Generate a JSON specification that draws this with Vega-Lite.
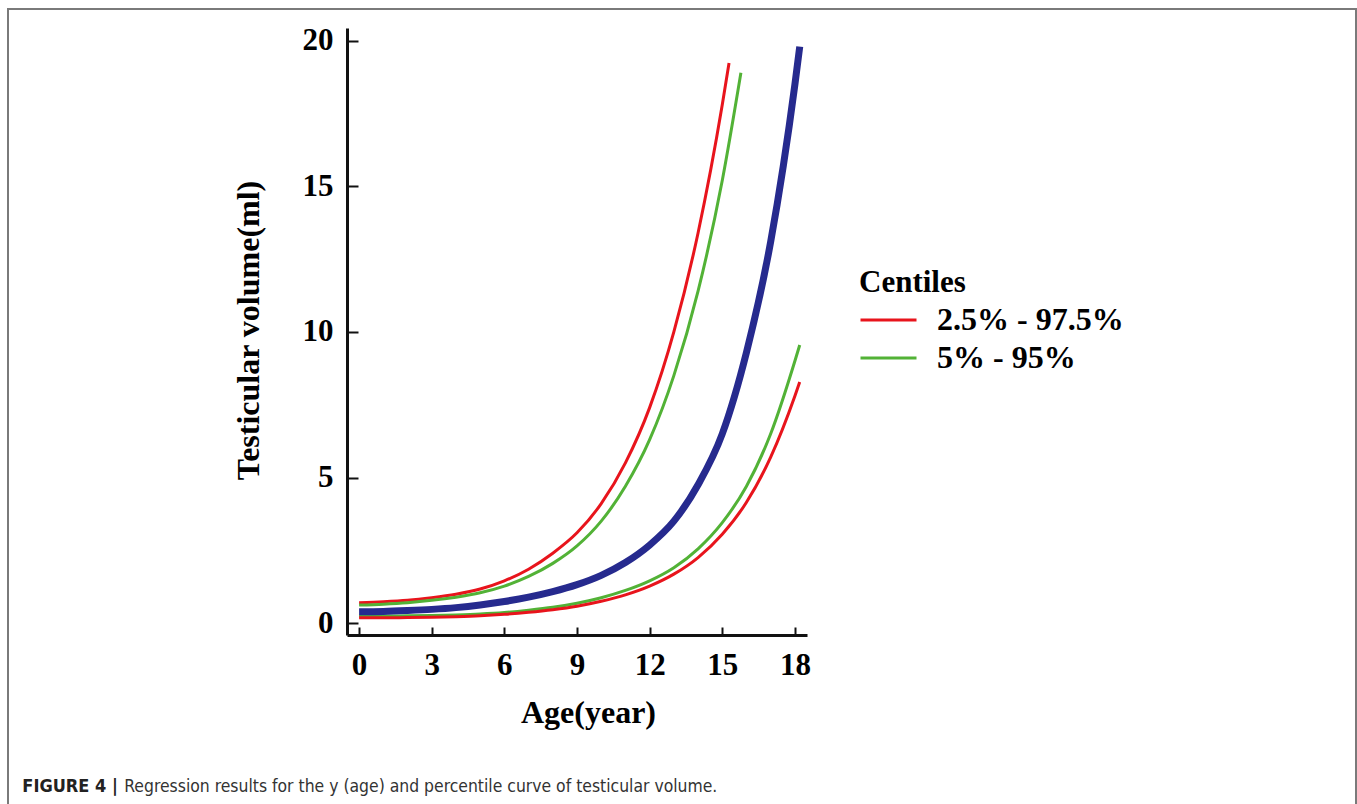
{
  "$schema": "https://vega.github.io/schema/vega-lite/v6.json",
  "width": 1348,
  "height": 796,
  "padding": {"left": 8, "top": 9, "right": 1, "bottom": 0},
  "autosize": {"type": "none"},
  "background": "white",
  "config": {
    "view": {"stroke": "#7a7a7a", "strokeWidth": 2},
    "font": "Liberation Serif",
    "axis": {"grid": false}
  },
  "datasets": {
    "curves": [
      {"age": 0, "value": 0.70, "curve": "P97.5", "band": "2.5% - 97.5%"},
      {"age": 1, "value": 0.73, "curve": "P97.5", "band": "2.5% - 97.5%"},
      {"age": 2, "value": 0.78, "curve": "P97.5", "band": "2.5% - 97.5%"},
      {"age": 3, "value": 0.87, "curve": "P97.5", "band": "2.5% - 97.5%"},
      {"age": 4, "value": 0.99, "curve": "P97.5", "band": "2.5% - 97.5%"},
      {"age": 5, "value": 1.17, "curve": "P97.5", "band": "2.5% - 97.5%"},
      {"age": 6, "value": 1.45, "curve": "P97.5", "band": "2.5% - 97.5%"},
      {"age": 7, "value": 1.85, "curve": "P97.5", "band": "2.5% - 97.5%"},
      {"age": 8, "value": 2.4, "curve": "P97.5", "band": "2.5% - 97.5%"},
      {"age": 9, "value": 3.1, "curve": "P97.5", "band": "2.5% - 97.5%"},
      {"age": 10, "value": 4.1, "curve": "P97.5", "band": "2.5% - 97.5%"},
      {"age": 11, "value": 5.5, "curve": "P97.5", "band": "2.5% - 97.5%"},
      {"age": 12, "value": 7.4, "curve": "P97.5", "band": "2.5% - 97.5%"},
      {"age": 13, "value": 10.0, "curve": "P97.5", "band": "2.5% - 97.5%"},
      {"age": 14, "value": 13.4, "curve": "P97.5", "band": "2.5% - 97.5%"},
      {"age": 15, "value": 17.8, "curve": "P97.5", "band": "2.5% - 97.5%"},
      {"age": 15.28, "value": 19.24, "curve": "P97.5", "band": "2.5% - 97.5%"},
      {"age": 0, "value": 0.62, "curve": "P95", "band": "5% - 95%"},
      {"age": 1, "value": 0.65, "curve": "P95", "band": "5% - 95%"},
      {"age": 2, "value": 0.70, "curve": "P95", "band": "5% - 95%"},
      {"age": 3, "value": 0.78, "curve": "P95", "band": "5% - 95%"},
      {"age": 4, "value": 0.89, "curve": "P95", "band": "5% - 95%"},
      {"age": 5, "value": 1.04, "curve": "P95", "band": "5% - 95%"},
      {"age": 6, "value": 1.27, "curve": "P95", "band": "5% - 95%"},
      {"age": 7, "value": 1.6, "curve": "P95", "band": "5% - 95%"},
      {"age": 8, "value": 2.05, "curve": "P95", "band": "5% - 95%"},
      {"age": 9, "value": 2.65, "curve": "P95", "band": "5% - 95%"},
      {"age": 10, "value": 3.5, "curve": "P95", "band": "5% - 95%"},
      {"age": 11, "value": 4.7, "curve": "P95", "band": "5% - 95%"},
      {"age": 12, "value": 6.3, "curve": "P95", "band": "5% - 95%"},
      {"age": 13, "value": 8.5, "curve": "P95", "band": "5% - 95%"},
      {"age": 14, "value": 11.4, "curve": "P95", "band": "5% - 95%"},
      {"age": 15, "value": 15.2, "curve": "P95", "band": "5% - 95%"},
      {"age": 15.77, "value": 18.9, "curve": "P95", "band": "5% - 95%"},
      {"age": 0, "value": 0.39, "curve": "P50", "band": "50%"},
      {"age": 1, "value": 0.40, "curve": "P50", "band": "50%"},
      {"age": 2, "value": 0.43, "curve": "P50", "band": "50%"},
      {"age": 3, "value": 0.47, "curve": "P50", "band": "50%"},
      {"age": 4, "value": 0.53, "curve": "P50", "band": "50%"},
      {"age": 5, "value": 0.62, "curve": "P50", "band": "50%"},
      {"age": 6, "value": 0.74, "curve": "P50", "band": "50%"},
      {"age": 7, "value": 0.89, "curve": "P50", "band": "50%"},
      {"age": 8, "value": 1.08, "curve": "P50", "band": "50%"},
      {"age": 9, "value": 1.32, "curve": "P50", "band": "50%"},
      {"age": 10, "value": 1.64, "curve": "P50", "band": "50%"},
      {"age": 11, "value": 2.08, "curve": "P50", "band": "50%"},
      {"age": 12, "value": 2.68, "curve": "P50", "band": "50%"},
      {"age": 13, "value": 3.5, "curve": "P50", "band": "50%"},
      {"age": 14, "value": 4.75, "curve": "P50", "band": "50%"},
      {"age": 15, "value": 6.5, "curve": "P50", "band": "50%"},
      {"age": 16, "value": 9.3, "curve": "P50", "band": "50%"},
      {"age": 17, "value": 13.1, "curve": "P50", "band": "50%"},
      {"age": 18, "value": 18.5, "curve": "P50", "band": "50%"},
      {"age": 18.2, "value": 19.8, "curve": "P50", "band": "50%"},
      {"age": 0, "value": 0.24, "curve": "P5", "band": "5% - 95%"},
      {"age": 1, "value": 0.24, "curve": "P5", "band": "5% - 95%"},
      {"age": 2, "value": 0.25, "curve": "P5", "band": "5% - 95%"},
      {"age": 3, "value": 0.26, "curve": "P5", "band": "5% - 95%"},
      {"age": 4, "value": 0.28, "curve": "P5", "band": "5% - 95%"},
      {"age": 5, "value": 0.31, "curve": "P5", "band": "5% - 95%"},
      {"age": 6, "value": 0.36, "curve": "P5", "band": "5% - 95%"},
      {"age": 7, "value": 0.44, "curve": "P5", "band": "5% - 95%"},
      {"age": 8, "value": 0.54, "curve": "P5", "band": "5% - 95%"},
      {"age": 9, "value": 0.68, "curve": "P5", "band": "5% - 95%"},
      {"age": 10, "value": 0.87, "curve": "P5", "band": "5% - 95%"},
      {"age": 11, "value": 1.12, "curve": "P5", "band": "5% - 95%"},
      {"age": 12, "value": 1.45, "curve": "P5", "band": "5% - 95%"},
      {"age": 13, "value": 1.9, "curve": "P5", "band": "5% - 95%"},
      {"age": 14, "value": 2.55, "curve": "P5", "band": "5% - 95%"},
      {"age": 15, "value": 3.45, "curve": "P5", "band": "5% - 95%"},
      {"age": 16, "value": 4.7, "curve": "P5", "band": "5% - 95%"},
      {"age": 17, "value": 6.5, "curve": "P5", "band": "5% - 95%"},
      {"age": 18, "value": 9.0, "curve": "P5", "band": "5% - 95%"},
      {"age": 18.2, "value": 9.55, "curve": "P5", "band": "5% - 95%"},
      {"age": 0, "value": 0.18, "curve": "P2.5", "band": "2.5% - 97.5%"},
      {"age": 1, "value": 0.18, "curve": "P2.5", "band": "2.5% - 97.5%"},
      {"age": 2, "value": 0.19, "curve": "P2.5", "band": "2.5% - 97.5%"},
      {"age": 3, "value": 0.20, "curve": "P2.5", "band": "2.5% - 97.5%"},
      {"age": 4, "value": 0.22, "curve": "P2.5", "band": "2.5% - 97.5%"},
      {"age": 5, "value": 0.25, "curve": "P2.5", "band": "2.5% - 97.5%"},
      {"age": 6, "value": 0.30, "curve": "P2.5", "band": "2.5% - 97.5%"},
      {"age": 7, "value": 0.37, "curve": "P2.5", "band": "2.5% - 97.5%"},
      {"age": 8, "value": 0.46, "curve": "P2.5", "band": "2.5% - 97.5%"},
      {"age": 9, "value": 0.58, "curve": "P2.5", "band": "2.5% - 97.5%"},
      {"age": 10, "value": 0.75, "curve": "P2.5", "band": "2.5% - 97.5%"},
      {"age": 11, "value": 0.97, "curve": "P2.5", "band": "2.5% - 97.5%"},
      {"age": 12, "value": 1.27, "curve": "P2.5", "band": "2.5% - 97.5%"},
      {"age": 13, "value": 1.68, "curve": "P2.5", "band": "2.5% - 97.5%"},
      {"age": 14, "value": 2.25, "curve": "P2.5", "band": "2.5% - 97.5%"},
      {"age": 15, "value": 3.05, "curve": "P2.5", "band": "2.5% - 97.5%"},
      {"age": 16, "value": 4.15, "curve": "P2.5", "band": "2.5% - 97.5%"},
      {"age": 17, "value": 5.7, "curve": "P2.5", "band": "2.5% - 97.5%"},
      {"age": 18, "value": 7.8, "curve": "P2.5", "band": "2.5% - 97.5%"},
      {"age": 18.2, "value": 8.28, "curve": "P2.5", "band": "2.5% - 97.5%"}
    ]
  },
  "layer": [
    {
      "data": {"name": "curves"},
      "transform": [{"filter": "datum.band != '50%'"}],
      "mark": {"type": "line", "interpolate": "monotone", "strokeWidth": 3},
      "encoding": {
        "x": {
          "field": "age", "type": "quantitative",
          "scale": {"domain": [-0.5, 18.5], "range": [339, 799], "nice": false, "zero": false},
          "axis": {
            "values": [0, 3, 6, 9, 12, 15, 18],
            "format": "d",
            "offset": -170,
            "tickSize": -8, "tickWidth": 2, "tickColor": "#111",
            "domainWidth": 3, "domainColor": "#111",
            "labelFont": "Liberation Serif", "labelFontWeight": "bold", "labelFontSize": 31,
            "labelColor": "black", "labelPadding": 23, "labelFlush": false, "labelOverlap": false,
            "title": "Age(year)", "titleFont": "Liberation Serif", "titleFontSize": 32,
            "titleFontWeight": "bold", "titleColor": "black",
            "titleX": 580, "titleY": 87, "titleBaseline": "alphabetic", "titleAlign": "center"
          }
        },
        "y": {
          "field": "value", "type": "quantitative",
          "scale": {"domain": [-0.41, 20.44], "range": [626, 19], "nice": false, "zero": false},
          "axis": {
            "values": [0, 5, 10, 15, 20],
            "format": "d",
            "offset": -339,
            "tickSize": -11, "tickWidth": 2, "tickColor": "#111",
            "domainWidth": 3, "domainColor": "#111",
            "labelFont": "Liberation Serif", "labelFontWeight": "bold", "labelFontSize": 31,
            "labelColor": "black", "labelPadding": 25, "labelFlush": false, "labelOverlap": false,
            "title": "Testicular volume(ml)", "titleFont": "Liberation Serif", "titleFontSize": 32,
            "titleFontWeight": "bold", "titleColor": "black",
            "titleX": -89, "titleY": 321, "titleBaseline": "alphabetic", "titleAlign": "center", "titleAngle": -90
          }
        },
        "color": {
          "field": "band", "type": "nominal",
          "scale": {"domain": ["2.5% - 97.5%", "5% - 95%"], "range": ["#e8141c", "#52b236"]},
          "legend": {
            "orient": "none", "legendX": 851, "legendY": 259, "padding": 0,
            "title": "Centiles", "titleFont": "Liberation Serif", "titleFontSize": 31,
            "titleFontWeight": "bold", "titleColor": "black", "titlePadding": 2,
            "labelFont": "Liberation Serif", "labelFontSize": 32, "labelFontWeight": "bold",
            "labelColor": "black", "labelOffset": 19, "labelLimit": 0,
            "symbolType": "stroke", "symbolSize": 3136, "symbolStrokeWidth": 3,
            "clipHeight": 38, "rowPadding": 0
          }
        },
        "detail": {"field": "curve"}
      }
    },
    {
      "data": {"name": "curves"},
      "transform": [{"filter": "datum.band == '50%'"}],
      "mark": {"type": "line", "interpolate": "monotone", "strokeWidth": 7, "color": "#262a8e"},
      "encoding": {
        "x": {"field": "age", "type": "quantitative"},
        "y": {"field": "value", "type": "quantitative"}
      }
    },
    {
      "data": {"values": [{}]},
      "mark": {"type": "text", "align": "left", "baseline": "alphabetic", "font": "Liberation Sans Narrow, DejaVu Sans Condensed, Liberation Sans", "fontSize": 18, "fontWeight": "bold", "color": "#222"},
      "encoding": {
        "x": {"datum": -13.91, "type": "quantitative"},
        "y": {"datum": -5.81, "type": "quantitative"},
        "text": {"value": "FIGURE 4 |"}
      }
    },
    {
      "data": {"values": [{}]},
      "mark": {"type": "text", "align": "left", "baseline": "alphabetic", "font": "Liberation Sans Narrow, DejaVu Sans Condensed, Liberation Sans", "fontSize": 17.4, "fontWeight": "normal", "color": "#333"},
      "encoding": {
        "x": {"datum": -9.70, "type": "quantitative"},
        "y": {"datum": -5.81, "type": "quantitative"},
        "text": {"value": "Regression results for the y (age) and percentile curve of testicular volume."}
      }
    }
  ]
}
